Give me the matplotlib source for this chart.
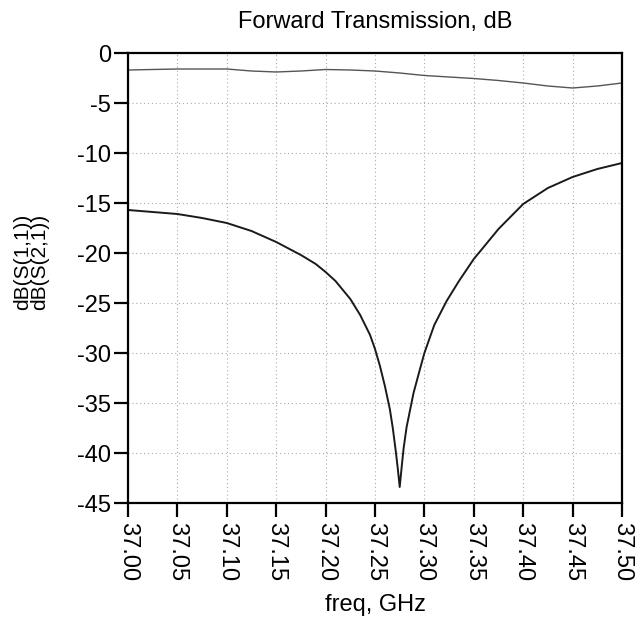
import matplotlib
matplotlib.use("Agg")
import matplotlib.pyplot as plt
from matplotlib.ticker import FixedLocator, FuncFormatter

plt.rcParams['font.family'] = ['Liberation Sans', 'DejaVu Sans']
plt.rcParams['axes.unicode_minus'] = False

# S(1,1) - input reflection, dB
freq_s11 = [37.00, 37.025, 37.05, 37.075, 37.10, 37.125, 37.15, 37.175, 37.19,
            37.20, 37.21, 37.225, 37.235, 37.245, 37.25, 37.255, 37.26, 37.265,
            37.268, 37.271, 37.273, 37.275, 37.277, 37.279, 37.282, 37.289,
            37.295, 37.30, 37.31, 37.3225, 37.335, 37.35, 37.36, 37.375,
            37.39, 37.40, 37.425, 37.45, 37.475, 37.50]
s11_db = [-15.7, -15.9, -16.1, -16.5, -17.0, -17.8, -18.9, -20.2, -21.1,
          -21.9, -22.8, -24.6, -26.2, -28.2, -29.6, -31.3, -33.3, -35.6,
          -37.5, -39.8, -41.5, -43.4, -41.4, -39.5, -37.4, -34.0,
          -31.8, -30.0, -27.2, -24.8, -22.8, -20.6, -19.4, -17.6,
          -16.1, -15.1, -13.5, -12.4, -11.6, -11.0]

# S(2,1) - forward transmission, dB
freq_s21 = [37.00, 37.05, 37.10, 37.125, 37.15, 37.175, 37.20, 37.225, 37.25,
            37.275, 37.30, 37.325, 37.35, 37.375, 37.40, 37.425, 37.45,
            37.475, 37.50]
s21_db = [-1.7, -1.6, -1.6, -1.8, -1.9, -1.8, -1.65, -1.7, -1.8,
          -2.0, -2.25, -2.4, -2.55, -2.75, -3.0, -3.3, -3.5,
          -3.3, -3.0]

x_ticks = [37.00, 37.05, 37.10, 37.15, 37.20, 37.25, 37.30, 37.35, 37.40, 37.45, 37.50]
y_ticks = [0, -5, -10, -15, -20, -25, -30, -35, -40, -45]

fig = plt.figure(figsize=(6.36, 6.24), dpi=100)
ax = fig.add_axes([128 / 636, 1 - 503 / 624, 494 / 636, 450 / 624])

ax.plot(freq_s21, s21_db, color='#555555', lw=1.0)
ax.plot(freq_s11, s11_db, color='#1a1a1a', lw=1.4)

ax.set_xlim(37.0, 37.5)
ax.set_ylim(-45, 0)
ax.xaxis.set_major_locator(FixedLocator(x_ticks))
ax.yaxis.set_major_locator(FixedLocator(y_ticks))
ax.xaxis.set_major_formatter(FuncFormatter(lambda v, p: f"{v:.2f}"))
ax.yaxis.set_major_formatter(FuncFormatter(lambda v, p: f"{int(round(v))}"))

# dotted grid like the ADS plot
ax.grid(True, color='#aaaaaa', lw=0.8, linestyle=(0, (1, 2.5)))
for s in ax.spines.values():
    s.set_linewidth(1.6)
ax.tick_params(direction='out', length=10, width=1.6, labelsize=17, pad=2)
ax.tick_params(axis='x', labelrotation=270, pad=4)

ax.set_title('Forward Transmission, dB', fontsize=17, pad=18)
fig.text(375 / 636, 1 - 605 / 624, 'freq, GHz', fontsize=17, ha='center', va='center')
fig.text(31 / 636, 1 - 262 / 624, 'dB(S(1,1))\ndB(S(2,1))', fontsize=15,
         rotation=90, ha='center', va='center', linespacing=0.9)

fig.savefig('out.png', dpi=100)
